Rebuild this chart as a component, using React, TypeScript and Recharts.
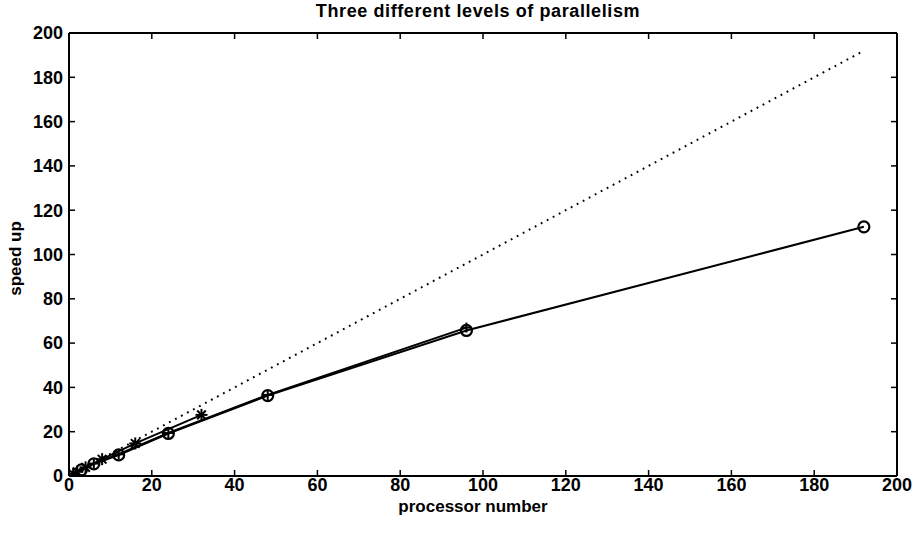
import { Label, Line, LineChart, XAxis, YAxis } from "recharts";

const axisTicks = [0, 20, 40, 60, 80, 100, 120, 140, 160, 180, 200];

const idealProcs = [1, 192];
const idealSpeed = [1, 192];

const starProcs = [1, 2, 4, 8, 16, 32];
const starSpeed = [1, 1.9, 3.9, 7.6, 14.7, 27.6];

const plusProcs = [6, 12, 24, 48, 96];
const plusSpeed = [5.6, 9.8, 19.4, 36.6, 67];

const circleProcs = [3, 6, 12, 24, 48, 96, 192];
const circleSpeed = [2.8, 5.5, 9.5, 19.2, 36.3, 65.7, 112.5];

const toPoints = (xs: number[], ys: number[]) => xs.map((p, i) => ({ p, s: ys[i] }));

const FONT = "'Liberation Sans', Arial, sans-serif";
const tickStyle = { fontSize: 18, fontWeight: 700, fill: "#000", fontFamily: FONT };
const labelStyle = { fontSize: 17, fontWeight: 700, fill: "#000", fontFamily: FONT };
const frameLine = { stroke: "#000", strokeWidth: 2 };
const tickMark = { stroke: "#000", strokeWidth: 1.5 };

function StarDot(props: any) {
  const { cx, cy, index } = props;
  const r = 6;
  const d = r * 0.72;
  return (
    <g key={`star-${index}`} stroke="#000" strokeWidth={2}>
      <line x1={cx - r} y1={cy} x2={cx + r} y2={cy} />
      <line x1={cx} y1={cy - r} x2={cx} y2={cy + r} />
      <line x1={cx - d} y1={cy - d} x2={cx + d} y2={cy + d} />
      <line x1={cx - d} y1={cy + d} x2={cx + d} y2={cy - d} />
    </g>
  );
}

function PlusDot(props: any) {
  const { cx, cy, index } = props;
  const r = 5;
  return (
    <g key={`plus-${index}`} stroke="#000" strokeWidth={2}>
      <line x1={cx - r} y1={cy} x2={cx + r} y2={cy} />
      <line x1={cx} y1={cy - r} x2={cx} y2={cy + r} />
    </g>
  );
}

function CircleDot(props: any) {
  const { cx, cy, index } = props;
  return <circle key={`circ-${index}`} cx={cx} cy={cy} r={5.5} fill="none" stroke="#000" strokeWidth={2.2} />;
}

export default function App() {
  return (
    <div style={{ position: "absolute", left: 0, top: 0, background: "#fff" }}>
      <LineChart width={921} height={543} margin={{ top: 32, right: 23, bottom: 0, left: 0 }}>
        <XAxis
          type="number"
          dataKey="p"
          domain={[0, 200]}
          ticks={axisTicks}
          height={67}
          tickSize={-6}
          tickMargin={8}
          tick={tickStyle}
          axisLine={frameLine}
          tickLine={tickMark}
          allowDataOverflow
        >
          <Label value="processor number" position="insideBottom" offset={31} dx={-10} style={labelStyle} />
        </XAxis>
        <XAxis
          xAxisId="top"
          orientation="top"
          type="number"
          dataKey="p"
          domain={[0, 200]}
          ticks={axisTicks}
          height={1}
          tickSize={-6}
          tickFormatter={() => ""}
          axisLine={frameLine}
          tickLine={tickMark}
          allowDataOverflow
        >
          <Label
            value="Three different levels of parallelism"
            position="top"
            offset={15}
            dx={-5}
            style={{ ...labelStyle, fontSize: 18, letterSpacing: 0.6 }}
          />
        </XAxis>
        <YAxis
          type="number"
          domain={[0, 200]}
          ticks={axisTicks}
          width={69}
          tickSize={-6}
          tickMargin={12}
          tick={tickStyle}
          axisLine={frameLine}
          tickLine={tickMark}
          allowDataOverflow
        >
          <Label
            value="speed up"
            angle={-90}
            position="insideLeft"
            offset={15}
            dy={4}
            style={{ ...labelStyle, textAnchor: "middle" }}
          />
        </YAxis>
        <YAxis
          yAxisId="right"
          orientation="right"
          type="number"
          domain={[0, 200]}
          ticks={axisTicks}
          width={1}
          tickSize={-6}
          tickFormatter={() => ""}
          axisLine={frameLine}
          tickLine={tickMark}
          allowDataOverflow
        />
        <Line
          data={toPoints(idealProcs, idealSpeed)}
          xAxisId="top"
          yAxisId="right"
          dataKey="s"
          type="linear"
          stroke="#000"
          strokeWidth={2}
          strokeDasharray="1.8 5"
          dot={false}
          isAnimationActive={false}
        />
        <Line
          data={toPoints(plusProcs, plusSpeed)}
          dataKey="s"
          type="linear"
          stroke="#000"
          strokeWidth={2}
          dot={PlusDot}
          isAnimationActive={false}
        />
        <Line
          data={toPoints(circleProcs, circleSpeed)}
          dataKey="s"
          type="linear"
          stroke="#000"
          strokeWidth={2}
          dot={CircleDot}
          isAnimationActive={false}
        />
        <Line
          data={toPoints(starProcs, starSpeed)}
          dataKey="s"
          type="linear"
          stroke="#000"
          strokeWidth={2}
          dot={StarDot}
          isAnimationActive={false}
        />
      </LineChart>
    </div>
  );
}
